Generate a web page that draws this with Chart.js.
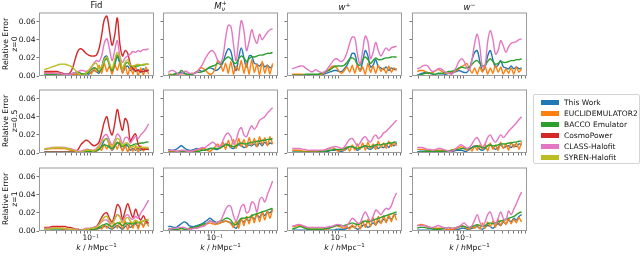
<!DOCTYPE html>
<html>
<head>
<meta charset="utf-8">
<script src="https://cdn.jsdelivr.net/npm/chart.js@4.4.1/dist/chart.umd.min.js"></script>
<style>
  body { margin:0; width:640px; height:266px; background:#fff; position:relative; overflow:hidden;
         font-family:"DejaVu Sans", sans-serif; color:#111; }
  canvas { position:absolute; }
  .ttl { position:absolute; top:0px; transform:translateX(-50%); font-size:8.5px; line-height:10px; white-space:nowrap; }
  .ttl sup { font-size:6px; vertical-align:3px; }
  .ss { display:inline-block; vertical-align:-2px; font-size:6px; line-height:5.5px; }
  .ss span { display:block; }
  .ylab { position:absolute; left:10px; transform:translate(-50%,-50%) rotate(-90deg); font-size:7.7px; line-height:8.5px;
          text-align:center; white-space:nowrap; }
  .xlab { position:absolute; top:241px; transform:translateX(-50%); font-size:7.7px; line-height:9px; white-space:nowrap; }
  .xlab sup { font-size:5.5px; vertical-align:3px; }
  #legend { position:absolute; left:533px; top:94px; width:105px; height:68px; border:1px solid #d4d4d4; border-radius:2px;
            background:rgba(255,255,255,0.8); }
  .li { position:absolute; left:0; height:11px; font-size:7.5px; line-height:11px; white-space:nowrap; }
  .li i { position:absolute; left:7px; top:3.3px; width:18px; height:5px; }
  .li span { position:absolute; left:30px; top:0; }
</style>
</head>
<body>
<script>
// k grid (h/Mpc)
const K = [0.01905,0.02092,0.02296,0.02521,0.02767,0.03038,0.03334,0.0366,0.04018,0.04411,
  0.04842,0.05315,0.05834,0.06405,0.07031,0.07718,0.08472,0.093,0.1021,0.1121,
  0.123,0.135,0.1483,0.1627,0.1786,0.1961,0.2153,0.2363,0.2594,0.2848,
  0.3126,0.3431,0.3767,0.4135,0.4539,0.4983,0.547,0.6005,0.6592,0.7236,
  0.7943];

// relative error, in units of 1e-3
// Fid, z=0
const fid0_TW    = [3,3,2,2,1,1,1,1,2,2, 1,1,2,2,1,2,3,2,4,6, 5,3,10,20,22,12,4,12,21,14, 4,9,11,6,8,5,7,4,8,5, 7];
const fid0_EE2   = [4,4,4,4,3,3,2,2,1,1, 1,2,2,2,1,1,3,6,2,9, 4,12,3,14,5,11,2,13,6,15, 3,12,1,10,2,11,0,9,1,10, 2];
const fid0_BACCO = [2,2,2,2,2,1,1,1,1,1, 2,3,4,4,3,2,2,4,7,9, 8,5,8,16,19,12,6,14,23,17, 8,13,15,11,10,11,11,12,12,13, 13];
const fid0_CP    = [5,5,5,5,5,5,4,3,2,2, 4,10,20,28,30,28,25,23,22,22, 23,30,45,62,66,50,34,45,64,35, 22,28,25,13,8,6,6,5,5,6, 6];
const fid0_CLASS = [3,3,3,3,3,3,3,2,2,2, 2,3,4,5,6,6,5,6,9,14, 17,16,22,36,41,30,17,28,39,22, 15,20,22,24,27,26,28,27,29,29, 30];
const fid0_SYREN = [7,8,9,10,11,12,13,13,13,12, 11,9,6,3,1,1,3,6,10,13, 14,8,10,18,21,14,8,18,26,20, 8,15,18,12,11,12,13,12,13,13, 13];
// Fid, z=0.5
const fid05_TW    = [1,1,1,1,1,1,1,1,1,1, 1,1,1,1,1,1,2,2,3,2, 2,4,8,14,16,8,3,7,12,9, 3,7,8,3,5,3,5,3,6,4, 5];
const fid05_EE2   = [4,4,5,5,5,5,5,5,5,4, 3,3,2,1,1,1,1,2,1,3, 2,6,3,10,4,12,3,11,4,13, 2,9,1,8,2,7,1,8,2,6, 3];
const fid05_BACCO = [1,1,1,1,1,1,1,1,1,1, 1,1,1,1,1,1,2,2,2,2, 3,4,7,9,8,6,5,8,11,10, 7,9,10,8,9,10,10,11,11,12, 12];
const fid05_CP    = [1,1,1,1,1,1,1,1,1,1, 1,1,2,4,9,12,14,13,10,8, 9,12,22,34,40,27,20,32,48,35, 25,38,33,13,18,21,10,5,4,4, 4];
const fid05_CLASS = [4,5,5,6,6,6,6,6,6,5, 5,4,3,2,2,3,4,4,3,3, 5,8,14,19,20,14,9,14,21,18, 10,17,17,11,15,18,16,20,23,27, 32];
const fid05_SYREN = [4,5,5,5,6,6,6,6,5,5, 4,3,2,1,1,2,3,3,3,2, 4,7,12,15,15,10,7,11,16,14, 8,11,11,6,7,8,6,6,6,6, 6];
// Fid, z=1
const fid1_TW    = [1,1,1,1,1,1,1,1,1,0, 0,0,0,0,1,1,1,1,2,2, 2,3,4,5,5,3,2,4,6,4, 2,5,7,4,6,8,5,9,6,9, 8];
const fid1_EE2   = [3,3,3,3,3,3,3,2,2,2, 1,1,1,1,1,1,1,2,1,3, 2,5,2,7,3,8,2,9,3,10, 2,11,1,10,3,12,2,11,4,12, 5];
const fid1_BACCO = [1,1,1,1,1,1,1,1,1,1, 1,1,1,1,1,1,1,2,2,2, 3,4,6,7,8,6,5,7,9,8, 6,8,9,8,8,9,9,10,11,12, 12];
const fid1_CP    = [4,4,4,5,5,5,5,5,5,4, 4,3,2,2,1,1,1,2,3,4, 5,9,15,19,20,14,10,18,29,26, 13,22,30,22,15,24,17,12,17,11, 9];
const fid1_CLASS = [3,3,3,3,3,3,3,3,2,2, 2,2,2,1,1,2,3,3,3,4, 5,7,10,12,12,9,8,13,18,16, 11,16,18,14,13,16,14,20,24,29, 34];
const fid1_SYREN = [2,2,2,3,3,3,3,3,3,2, 2,2,1,1,1,1,2,2,3,3, 4,7,11,15,16,11,8,13,18,15, 9,13,15,11,9,12,10,10,11,12, 13];
// M_nu+, z=0 / 0.5 / 1
const mnu0_TW    = [1,1,1,2,3,4,3,2,1,2, 3,5,6,5,6,8,9,8,6,7, 10,15,24,30,27,14,6,20,31,20, 10,22,22,14,13,11,14,10,12,9, 11];
const mnu0_EE2   = [2,2,1,1,1,1,1,1,1,2, 3,5,8,9,7,4,2,3,8,17, 14,5,14,3,16,2,11,6,17,3, 15,2,18,4,13,1,16,3,12,2, 14];
const mnu0_BACCO = [1,1,2,3,3,6,4,2,2,2, 3,4,4,5,6,8,10,11,12,14, 13,16,19,21,19,15,14,19,22,20, 16,19,21,21,22,23,23,24,25,25, 26];
const mnu0_CLASS = [4,6,6,4,2,3,5,5,3,3, 3,4,8,12,18,23,27,28,24,17, 14,22,42,56,55,35,17,40,61,50, 28,38,51,42,36,46,40,44,48,51, 52];
const mnu05_TW    = [4,3,3,4,6,8,6,4,3,3, 4,5,4,3,3,4,5,5,4,4, 6,8,10,9,6,5,7,9,8,6, 7,9,8,10,7,11,8,12,9,11, 10];
const mnu05_EE2   = [2,2,2,2,2,2,2,2,2,2, 2,3,4,5,5,3,2,4,7,10, 5,12,4,14,6,15,5,16,7,15, 6,17,8,16,7,18,9,17,8,18, 10];
const mnu05_BACCO = [1,1,1,1,2,2,2,1,1,1, 1,2,2,3,3,4,5,5,5,5, 6,7,9,9,8,7,8,10,11,10, 10,11,12,12,13,13,14,14,15,15, 16];
const mnu05_CLASS = [3,3,3,2,2,3,3,2,2,2, 3,4,5,6,6,8,10,12,10,7, 8,14,20,22,18,10,14,24,28,20, 18,25,30,26,30,36,38,40,44,47, 50];
const mnu1_TW    = [5,5,4,4,6,8,10,9,6,5, 5,6,7,8,10,12,14,12,10,8, 9,10,11,10,9,5,3,8,12,10, 13,11,16,13,18,15,20,17,21,20, 24];
const mnu1_EE2   = [2,2,1,1,1,1,1,1,2,3, 3,4,5,6,7,8,9,8,7,8, 9,10,11,10,8,4,12,3,14,6, 16,8,18,9,20,10,21,12,22,14, 24];
const mnu1_BACCO = [2,2,2,2,2,3,2,2,3,4, 4,5,6,7,8,9,11,10,9,10, 11,12,14,14,12,8,7,11,14,14, 15,15,17,18,19,20,21,22,23,24, 25];
const mnu1_CLASS = [2,2,3,3,4,4,4,3,2,2, 3,3,4,5,6,9,11,10,9,10, 11,17,24,28,27,17,11,18,27,29, 20,22,32,30,21,34,37,32,40,47, 55];
// w+, z=0 / 0.5 / 1
const wp0_TW    = [1,1,1,1,1,1,1,1,1,1, 1,1,2,3,4,5,6,6,5,5, 8,12,18,25,24,12,6,16,28,22, 10,12,18,10,9,7,10,6,9,7, 8];
const wp0_EE2   = [2,2,2,2,2,1,1,1,1,1, 1,2,3,5,7,10,11,9,5,3, 6,10,4,12,3,13,5,10,2,14, 4,11,3,12,5,9,3,11,4,9, 6];
const wp0_BACCO = [1,1,1,1,1,2,2,2,2,2, 2,3,4,5,6,8,10,11,11,11, 12,15,19,20,18,13,12,18,21,18, 14,17,20,18,18,19,20,20,21,21, 21];
const wp0_CLASS = [8,9,10,11,11,9,7,5,5,7, 5,4,4,6,10,14,18,19,17,16, 19,26,36,43,42,24,13,28,44,38, 19,26,37,28,22,27,31,28,31,32, 33];
const wp05_TW    = [1,1,1,1,1,1,1,1,1,1, 1,1,1,2,2,3,3,3,2,2, 3,5,7,7,5,3,5,7,8,5, 4,6,8,5,7,6,9,6,10,8, 11];
const wp05_EE2   = [3,3,3,3,2,2,2,2,2,2, 2,2,3,4,5,6,5,3,2,4, 3,7,2,9,3,10,4,11,3,12, 5,10,4,13,6,11,5,13,7,12, 8];
const wp05_BACCO = [1,1,1,1,1,1,1,1,1,1, 1,2,2,2,3,3,4,4,4,4, 5,6,7,7,6,5,6,7,8,7, 7,8,9,9,9,10,10,11,11,12, 12];
const wp05_CLASS = [5,5,5,5,4,4,3,3,3,3, 3,3,3,4,5,6,7,7,6,5, 7,11,15,16,12,8,11,16,18,14, 12,17,20,16,18,22,24,27,30,33, 36];
const wp1_TW    = [1,1,1,1,1,1,1,1,1,1, 1,1,1,1,1,1,1,2,2,2, 2,3,4,5,4,2,3,6,7,4, 6,9,7,11,9,13,11,15,13,17, 19];
const wp1_EE2   = [5,5,6,6,5,4,3,2,2,2, 2,2,2,2,3,4,5,6,5,4, 3,5,2,7,3,9,2,11,4,13, 5,15,6,16,8,17,9,18,10,19, 12];
const wp1_BACCO = [2,3,4,5,4,3,2,2,2,2, 2,2,2,3,3,4,5,6,6,6, 6,7,8,9,8,7,8,10,11,10, 11,12,13,14,15,16,17,18,19,20, 21];
const wp1_CLASS = [5,6,7,7,6,5,4,4,4,4, 4,4,4,4,5,5,6,7,7,6, 5,6,10,14,12,9,9,16,21,16, 11,16,23,21,18,22,25,24,28,36, 42];
// w-, z=0 / 0.5 / 1
const wm0_TW    = [1,2,3,4,4,3,2,1,1,1, 1,2,3,3,4,5,6,5,4,4, 8,18,26,28,16,6,10,22,28,18, 10,12,17,10,9,8,11,8,10,8, 9];
const wm0_EE2   = [5,6,6,5,3,3,4,6,7,6, 4,3,3,4,5,6,8,10,12,14, 8,3,9,2,10,4,11,2,9,3, 12,4,10,2,8,3,9,2,10,4, 8];
const wm0_BACCO = [1,1,2,3,3,3,2,2,3,3, 3,4,5,5,6,7,9,10,9,9, 10,13,16,17,14,11,12,16,19,16, 13,14,16,15,15,16,17,17,18,18, 19];
const wm0_CLASS = [8,9,11,12,11,7,5,6,8,8, 6,4,3,2,4,10,16,19,16,9, 7,18,36,46,32,10,12,38,50,40, 24,28,39,33,26,32,36,37,38,40, 41];
const wm05_TW    = [1,2,2,2,2,2,1,1,1,1, 1,1,1,2,2,3,3,3,2,2, 4,6,8,7,4,3,5,8,9,6, 4,6,9,6,7,8,6,9,7,10, 9];
const wm05_EE2   = [4,4,4,4,3,3,3,3,3,3, 3,2,2,3,4,5,6,7,5,3, 6,2,8,3,9,4,10,2,11,4, 9,3,12,5,10,3,12,6,11,4, 12];
const wm05_BACCO = [1,1,1,2,2,2,2,2,2,2, 2,2,2,3,3,4,4,5,5,5, 5,6,7,8,7,6,6,8,9,8, 8,9,10,10,10,11,11,12,12,13, 13];
const wm05_CLASS = [6,6,6,5,4,4,3,4,5,5, 4,3,2,2,3,5,8,9,7,5, 6,10,15,17,12,7,10,17,20,15, 12,16,20,17,20,24,27,30,33,37, 40];
const wm1_TW    = [1,1,1,1,1,1,1,1,1,1, 1,1,1,1,1,2,2,3,3,2, 2,3,4,5,3,2,4,6,5,3, 6,8,6,10,8,12,10,14,12,16, 18];
const wm1_EE2   = [6,7,7,6,5,4,3,3,3,3, 3,2,2,2,2,3,4,6,5,3, 2,5,3,7,2,9,3,10,5,11, 4,13,6,12,7,14,8,13,9,15, 10];
const wm1_BACCO = [3,4,4,4,3,3,2,2,2,2, 3,3,4,3,3,4,5,5,5,4, 4,5,6,7,6,5,6,8,9,8, 9,10,11,12,13,14,15,16,18,20, 21];
const wm1_CLASS = [6,6,6,6,5,4,4,5,6,5, 4,3,4,3,3,4,5,7,9,6, 4,6,12,18,10,5,10,18,21,13, 8,14,21,14,12,22,18,24,30,37, 43];

const SERIES = ['This Work', 'EUCLIDEMULATOR2', 'BACCO Emulator', 'CosmoPower', 'CLASS-Halofit', 'SYREN-Halofit'];
const COLORS = ['#1f77b4', '#ff7f0e', '#2ca02c', '#d62728', '#e377c2', '#bcbd22'];
const TITLES = ['Fid', '<i>M</i><span class="ss"><span>+</span><span><i>ν</i></span></span>', '<i>w</i><sup>+</sup>', '<i>w</i><sup>−</sup>'];
const ZLABELS = ['z=0', 'z=0.5', 'z=1'];
const X_TICKS = [0.02,0.03,0.04,0.05,0.06,0.07,0.08,0.09,0.1,0.2,0.3,0.4,0.5,0.6,0.7,0.8,0.9];
const Y_TICKS = [0, 0.02, 0.04, 0.06];

const PANELS = [
  [[fid0_TW, fid0_EE2, fid0_BACCO, fid0_CP, fid0_CLASS, fid0_SYREN],
   [mnu0_TW, mnu0_EE2, mnu0_BACCO, null, mnu0_CLASS, null],
   [wp0_TW, wp0_EE2, wp0_BACCO, null, wp0_CLASS, null],
   [wm0_TW, wm0_EE2, wm0_BACCO, null, wm0_CLASS, null]],
  [[fid05_TW, fid05_EE2, fid05_BACCO, fid05_CP, fid05_CLASS, fid05_SYREN],
   [mnu05_TW, mnu05_EE2, mnu05_BACCO, null, mnu05_CLASS, null],
   [wp05_TW, wp05_EE2, wp05_BACCO, null, wp05_CLASS, null],
   [wm05_TW, wm05_EE2, wm05_BACCO, null, wm05_CLASS, null]],
  [[fid1_TW, fid1_EE2, fid1_BACCO, fid1_CP, fid1_CLASS, fid1_SYREN],
   [mnu1_TW, mnu1_EE2, mnu1_BACCO, null, mnu1_CLASS, null],
   [wp1_TW, wp1_EE2, wp1_BACCO, null, wp1_CLASS, null],
   [wm1_TW, wm1_EE2, wm1_BACCO, null, wm1_CLASS, null]]
];

// panel geometry
const COLS = [39, 163, 287, 412], ROWS = [11, 88, 166];
const PW = 115, PH = 65, AX_W = 40, PAD_T = 4, PAD_R = 6, AX_H = 18;

const framePlugin = {
  id: 'frame',
  afterDatasetsDraw(chart) {
    const { ctx, chartArea: a } = chart;
    ctx.save();
    ctx.strokeStyle = '#9a9a9a';
    ctx.lineWidth = 1;
    ctx.strokeRect(a.left + 0.5, a.top + 0.5, a.right - a.left - 1, a.bottom - a.top - 1);
    ctx.restore();
  }
};

function addDiv(cls, html, style) {
  const d = document.createElement('div');
  d.className = cls;
  d.innerHTML = html;
  Object.assign(d.style, style);
  document.body.appendChild(d);
  return d;
}

PANELS.forEach((rowData, r) => {
  rowData.forEach((set, c) => {
    const cv = document.createElement('canvas');
    const W = AX_W + PW + PAD_R, H = PAD_T + PH + AX_H;
    cv.width = W; cv.height = H;
    cv.style.left = (COLS[c] - AX_W) + 'px';
    cv.style.top = (ROWS[r] - PAD_T) + 'px';
    document.body.appendChild(cv);

    const datasets = [];
    set.forEach((vals, s) => {
      if (!vals) return;
      datasets.push({
        label: SERIES[s],
        data: K.map((k, i) => ({ x: k, y: vals[i] / 1000 })),
        borderColor: COLORS[s],
        borderWidth: 1.4,
        pointRadius: 0,
        tension: s === 1 ? 0.15 : 0.35,
        order: -s
      });
    });

    new Chart(cv, {
      type: 'line',
      data: { datasets },
      plugins: [framePlugin],
      options: {
        responsive: false, animation: false, events: [],
        devicePixelRatio: 1,
        layout: { padding: { top: PAD_T, right: PAD_R, left: 0, bottom: 0 } },
        plugins: { legend: { display: false }, tooltip: { enabled: false } },
        scales: {
          x: {
            type: 'logarithmic', min: 0.01578, max: 0.964,
            afterBuildTicks: s => { s.ticks = X_TICKS.map(v => ({ value: v })); },
            afterFit: s => { s.height = AX_H; },
            border: { display: false },
            grid: { drawOnChartArea: false, drawTicks: true, tickLength: 2.5, color: '#777' },
            ticks: {
              autoSkip: false, maxRotation: 0, padding: 0,
              color: '#111', font: { family: 'DejaVu Sans', size: 7.5 },
              callback: v => (r === 2 && Math.abs(v - 0.1) < 1e-9) ? '10⁻¹' : ''
            }
          },
          y: {
            type: 'linear', min: 0, max: 0.07,
            afterBuildTicks: s => { s.ticks = Y_TICKS.map(v => ({ value: v })); },
            afterFit: s => { s.width = AX_W; },
            border: { display: false },
            grid: { drawOnChartArea: false, drawTicks: true, tickLength: 2.5, color: '#777' },
            ticks: {
              padding: 1, color: '#111', font: { family: 'DejaVu Sans', size: 7.5 },
              callback: v => c === 0 ? v.toFixed(2) : ''
            }
          }
        }
      }
    });
  });
});

// titles, axis labels
COLS.forEach((x, c) => {
  addDiv('ttl', TITLES[c], { left: (x + PW / 2) + 'px' });
  addDiv('xlab', '<i>k</i> / <i>h</i>Mpc<sup>−1</sup>', { left: (x + PW / 2) + 'px' });
});
ROWS.forEach((y, r) => {
  addDiv('ylab', 'Relative Error<br>' + ZLABELS[r], { top: (y + PH / 2) + 'px' });
});

// legend
const lg = document.createElement('div');
lg.id = 'legend';
document.body.appendChild(lg);
SERIES.forEach((name, s) => {
  const it = document.createElement('div');
  it.className = 'li';
  it.style.top = (1.5 + s * 11) + 'px';
  it.innerHTML = '<i style="background:' + COLORS[s] + '"></i><span>' + name + '</span>';
  lg.appendChild(it);
});
</script>
</body>
</html>
